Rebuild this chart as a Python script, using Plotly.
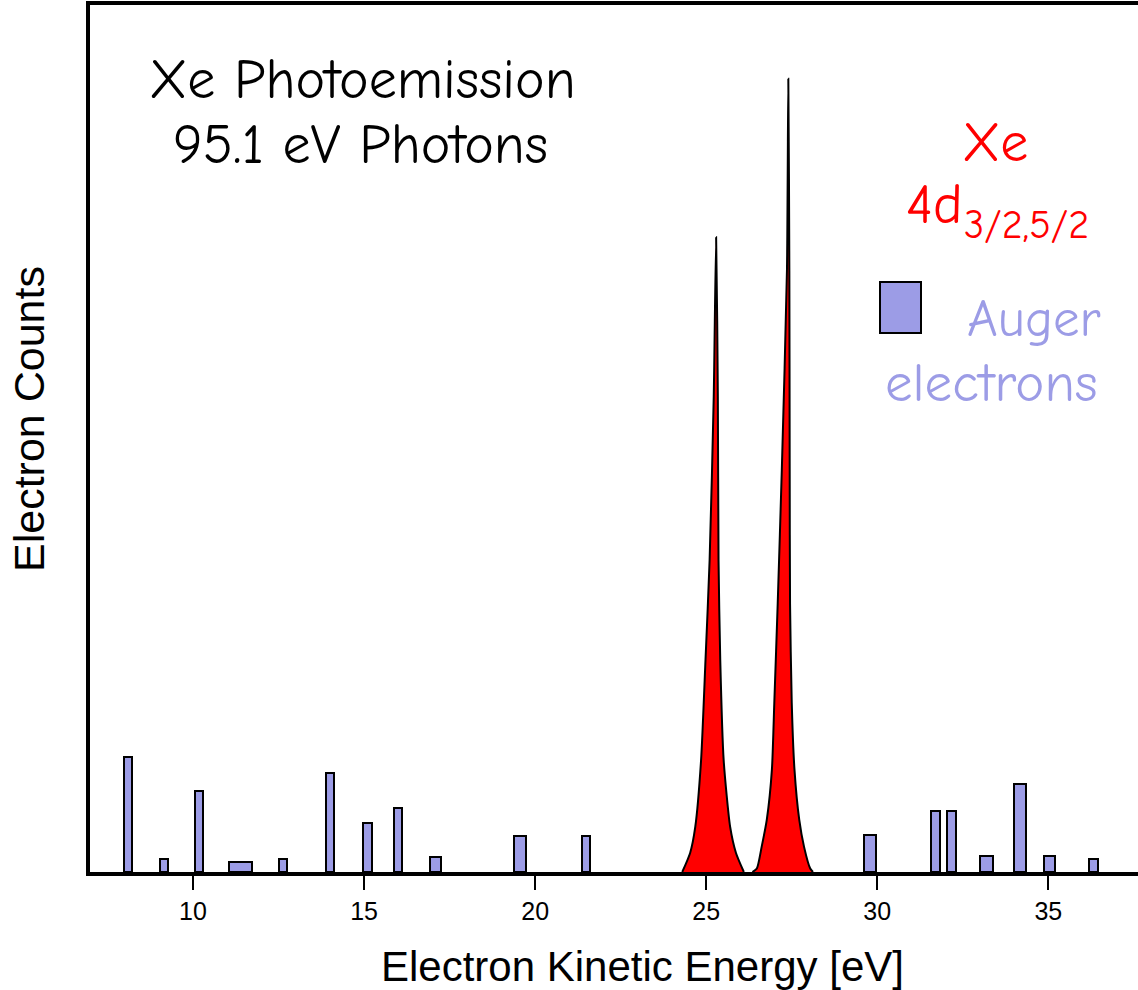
import plotly.graph_objects as go

# Auger electron lines: energy [eV], counts, and energy span of each bin
auger_energy = [8.10, 9.15, 10.18, 11.39, 12.62, 14.00, 15.11, 16.00, 17.09,
                19.55, 21.48, 29.79, 31.70, 32.17, 33.19, 34.17, 35.03, 36.33]
auger_counts = [13.3, 1.5, 9.4, 1.1, 1.5, 11.4, 5.6, 7.4, 1.7,
                4.2, 4.2, 4.3, 7.0, 7.0, 1.8, 10.1, 1.9, 1.5]
auger_width = [0.23, 0.23, 0.23, 0.65, 0.23, 0.23, 0.27, 0.23, 0.31,
               0.36, 0.23, 0.34, 0.24, 0.24, 0.37, 0.37, 0.31, 0.26]

# Xe 4d3/2 photoline outline (energy [eV], counts)
peak_32_energy = [24.30, 24.53, 24.68, 24.85, 24.98, 25.10, 25.22, 25.29,
                  25.34, 25.36, 25.41, 25.51, 25.70, 25.87, 26.10]
peak_32_counts = [0.0, 2.2, 5.2, 12.9, 24.5, 36.0, 54.8, 73.2,
                  54.8, 36.0, 24.5, 12.9, 5.2, 2.2, 0.0]

# Xe 4d5/2 photoline outline (energy [eV], counts)
peak_52_energy = [26.35, 26.48, 26.62, 26.77, 26.92, 26.99, 27.09, 27.21, 27.36,
                  27.40, 27.43, 27.44, 27.45, 27.50, 27.58, 27.72, 27.86, 28.04, 28.12]
peak_52_counts = [0.0, 0.4, 2.9, 6.0, 11.8, 19.5, 31.0, 46.4, 69.4,
                  91.5, 69.4, 46.4, 31.0, 19.5, 11.8, 6.0, 2.9, 0.4, 0.0]

tick_values = [10, 15, 20, 25, 30, 35]

W, H = 1138, 990
ML, MR, MT, MB = 90, 0, 5, 118
PW, PH = W - ML - MR, H - MT - MB

AUGER = "#9c9ce6"
RED = "#ff0000"
COMIC = "Comic Sans MS, Comic Neue, Lato, sans-serif"
ARIAL = "Liberation Sans, Arial, sans-serif"


def px(x):
    return (x - ML) / PW


def py(y):
    return (H - MB - y) / PH


fig = go.Figure()

fig.add_trace(go.Bar(
    x=auger_energy, y=auger_counts, width=auger_width,
    marker=dict(color=AUGER, line=dict(color="black", width=2)),
    showlegend=False,
))

for ex, cy in ((peak_32_energy, peak_32_counts), (peak_52_energy, peak_52_counts)):
    fig.add_trace(go.Scatter(
        x=ex, y=cy, mode="lines", fill="toself", fillcolor=RED,
        line=dict(color="black", width=2, shape="spline", smoothing=0.6),
        showlegend=False, hoverinfo="skip",
    ))

annotations = [
    dict(text="Xe Photoemission", x=px(362), y=py(80),
         font=dict(family=COMIC, size=56, color="black")),
    dict(text="95.1 eV Photons", x=px(360), y=py(145),
         font=dict(family=COMIC, size=56, color="black")),
    dict(text="Xe", x=px(995), y=py(143), font=dict(family=COMIC, size=56, color=RED)),
    dict(text="4d", x=px(934), y=py(205), font=dict(family=COMIC, size=56, color=RED)),
    dict(text="3/2,5/2", x=px(1026), y=py(225), font=dict(family=COMIC, size=40, color=RED)),
    dict(text="Auger", x=px(1034), y=py(318), font=dict(family=COMIC, size=53, color=AUGER)),
    dict(text="electrons", x=px(991), y=py(383), font=dict(family=COMIC, size=55, color=AUGER)),
    dict(text="Electron Kinetic Energy [eV]", x=px(642), y=py(966),
         font=dict(family=ARIAL, size=42, color="black")),
    dict(text="Electron Counts", x=px(29), y=py(419), textangle=-90,
         font=dict(family=ARIAL, size=43, color="black")),
]
for a in annotations:
    a.update(xref="paper", yref="paper", xanchor="center", yanchor="middle", showarrow=False)

fig.update_layout(
    width=W, height=H,
    margin=dict(l=ML, r=MR, t=MT, b=MB, pad=0),
    paper_bgcolor="white", plot_bgcolor="white",
    annotations=annotations,
    shapes=[dict(type="rect", xref="paper", yref="paper",
                 x0=px(880), x1=px(921), y0=py(333), y1=py(282),
                 fillcolor=AUGER, line=dict(color="black", width=2))],
    bargap=0,
)
fig.update_xaxes(
    range=[6.99, 37.62], showgrid=False, zeroline=False,
    showline=True, linecolor="black", linewidth=3.5, mirror=True,
    ticks="outside", ticklen=14, tickwidth=2, tickcolor="black",
    tickvals=tick_values, ticktext=[str(v) for v in tick_values],
    tickfont=dict(family=ARIAL, size=25, color="black"),
)
fig.update_yaxes(
    range=[0, 100], showgrid=False, zeroline=False,
    showline=True, linecolor="black", linewidth=3.5,
    showticklabels=False, ticks="",
)

fig.write_html("out.html")
